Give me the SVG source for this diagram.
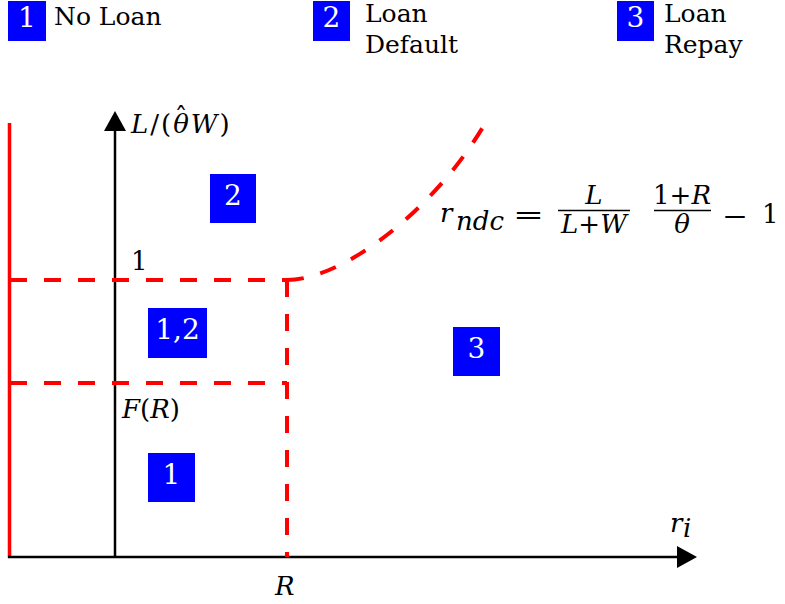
<svg xmlns="http://www.w3.org/2000/svg" width="785" height="604" viewBox="0 0 785 604">
<style>
.lg{font-family:'DejaVu Serif','Liberation Serif',serif;font-size:25px;fill:#000}
.num{font-family:'DejaVu Serif','Liberation Serif',serif;font-size:28px;fill:#fff;text-anchor:middle}
.m{font-family:'DejaVu Serif','Liberation Serif',serif;font-size:26px;fill:#000}
.i{font-style:italic}
.box{fill:#0000ff}
.dash{fill:none;stroke:#ff0000;stroke-width:4;stroke-dasharray:17 17}
.axis{stroke:#000;stroke-width:2.5;fill:none}
</style>
<defs>
<marker id="ah" markerWidth="20" markerHeight="22" refX="0" refY="11" orient="auto" markerUnits="userSpaceOnUse">
<path d="M0,0 L20,11 L0,22 Z" fill="#000"/>
</marker>
</defs>
<g id="legend">
<g id="legend1"><rect class="box" x="8" y="1" width="38" height="40"/><text class="num" x="27" y="27">1</text><text class="lg" x="54" y="25">No Loan</text></g>
<g id="legend2"><rect class="box" x="313" y="1" width="37" height="40"/><text class="num" x="331.5" y="27">2</text><text class="lg" x="365" y="22">Loan</text><text class="lg" x="365" y="53">Default</text></g>
<g id="legend3"><rect class="box" x="617" y="1" width="37" height="40"/><text class="num" x="635.5" y="27">3</text><text class="lg" x="664" y="22">Loan</text><text class="lg" x="664" y="53">Repay</text></g>
</g>
<g id="connectors">
<line x1="9.5" y1="123" x2="9.5" y2="558" stroke="#ff0000" stroke-width="3.5"/>
<line class="axis" x1="8" y1="557" x2="677" y2="557" marker-end="url(#ah)"/>
<line class="axis" x1="115" y1="558" x2="115" y2="131" marker-end="url(#ah)"/>
<line class="dash" x1="10" y1="280" x2="287" y2="280"/>
<line class="dash" x1="10" y1="383" x2="287" y2="383"/>
<line class="dash" x1="287" y1="280" x2="287" y2="557"/>
<path class="dash" d="M287,280 C340,280 430,215 483,127"/>
</g>
<g id="axis-labels">
<text class="m" x="131" y="133" font-size="29" letter-spacing="2"><tspan class="i">L</tspan>/(<tspan class="i">θ</tspan><tspan class="i">W</tspan>)</text>
<text class="m" x="181" y="126" font-size="18" text-anchor="middle">ˆ</text>
<text class="m" x="131" y="270">1</text>
<text class="m" x="122" y="418"><tspan class="i">F</tspan>(<tspan class="i">R</tspan>)</text>
<text class="m i" x="275" y="595">R</text>
<text class="m i" x="670" y="532">r</text>
<text class="m i" x="683" y="537" font-size="18">i</text>
</g>
<g id="formula">
<text class="m i" x="440" y="222" font-size="36">r</text>
<text class="m i" x="456" y="230" font-size="24">ndc</text>
<text class="m" x="513" y="224" font-size="38" textLength="31" lengthAdjust="spacingAndGlyphs">=</text>
<text class="m i" x="594" y="204" font-size="21" text-anchor="middle">L</text>
<line x1="558" y1="210.5" x2="630" y2="210.5" stroke="#000" stroke-width="1.6"/>
<text class="m" x="594" y="233" font-size="21" text-anchor="middle"><tspan class="i">L</tspan>+<tspan class="i">W</tspan></text>
<text class="m" x="682" y="204" font-size="21" text-anchor="middle">1+<tspan class="i">R</tspan></text>
<line x1="654" y1="210.5" x2="711" y2="210.5" stroke="#000" stroke-width="1.6"/>
<text class="m i" x="682" y="233" font-size="21" text-anchor="middle">θ</text>
<text class="m" x="722" y="225" font-size="38" textLength="26" lengthAdjust="spacingAndGlyphs">−</text>
<text class="m" x="762" y="223" font-size="34">1</text>
</g>
<g id="region2"><rect class="box" x="210" y="174" width="46" height="49"/><text class="num" x="233" y="205">2</text></g>
<g id="region12"><rect class="box" x="148" y="308" width="59" height="50"/><text class="num" x="177.5" y="339">1,2</text></g>
<g id="region1"><rect class="box" x="148" y="453" width="47" height="49"/><text class="num" x="171.5" y="484">1</text></g>
<g id="region3"><rect class="box" x="453" y="327" width="47" height="49"/><text class="num" x="476.5" y="358">3</text></g>
</svg>
